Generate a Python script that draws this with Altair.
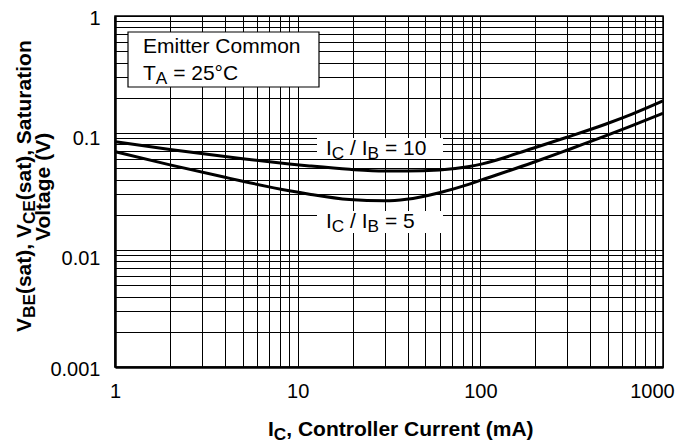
import altair as alt
import pandas as pd

# ---- data ----
ic_10 = [1, 2, 4, 5, 9, 11.6, 19.2, 29.9, 39.4, 59.7, 87.1, 102.6, 192.4, 295, 488, 677, 1000]
vsat_10 = [0.0842, 0.0724, 0.0629, 0.0603, 0.0544, 0.0523, 0.0489, 0.0473, 0.0473, 0.0483,
           0.0517, 0.0545, 0.0737, 0.0915, 0.1194, 0.1450, 0.1880]
ic_5 = [1, 2, 4, 5, 9, 11.6, 19.2, 29.9, 39.4, 59.7, 87.1, 102.6, 192.4, 295, 488, 677, 1000]
vsat_5 = [0.0692, 0.0534, 0.0418, 0.0387, 0.0321, 0.0300, 0.0270, 0.0263, 0.0271, 0.0309,
          0.0366, 0.0399, 0.0557, 0.0709, 0.0948, 0.1158, 0.1475]

x_ticks = [1, 2, 3, 4, 5, 6, 7, 8, 9, 10, 20, 30, 40, 50, 60, 70, 80, 90,
           100, 200, 300, 400, 500, 600, 700, 800, 900, 1000]
y_ticks = [0.001, 0.002, 0.003, 0.004, 0.005, 0.006, 0.007, 0.008, 0.009,
           0.01, 0.02, 0.03, 0.04, 0.05, 0.06, 0.07, 0.08, 0.09,
           0.1, 0.2, 0.3, 0.4, 0.5, 0.6, 0.7, 0.8, 0.9, 1]
x_labels = [1, 10, 100, 1000]
y_labels = [1, 0.1, 0.01, 0.001]

curves = pd.DataFrame(
    [{"ic": a, "v": b, "ratio": "10"} for a, b in zip(ic_10, vsat_10)]
    + [{"ic": a, "v": b, "ratio": "5"} for a, b in zip(ic_5, vsat_5)]
)

FONT = "Liberation Sans"
# Helvetica / Arial advance widths (1/1000 em)
W_REG = {" ": 278, "(": 333, ")": 333, ",": 278, ".": 278, "/": 278, "=": 584, "°": 400,
         "0": 556, "1": 556, "2": 556, "5": 556, "A": 667, "B": 667, "C": 722, "E": 667,
         "I": 278, "T": 611, "V": 667, "a": 556, "e": 556, "g": 556, "i": 222, "l": 222,
         "m": 833, "n": 556, "o": 556, "r": 333, "s": 500, "t": 278, "u": 556}
W_BOLD = {" ": 278, "(": 333, ")": 333, ",": 278, "A": 722, "B": 722, "C": 722, "E": 667,
          "I": 278, "S": 667, "V": 667, "a": 556, "e": 556, "g": 611, "i": 278, "l": 278,
          "m": 889, "n": 611, "o": 611, "r": 389, "s": 556, "t": 333, "u": 611}
SUB = 0.82
SUB_DY = 4


def tw(s, size, bold):
    tbl = W_BOLD if bold else W_REG
    return sum(tbl.get(c, 556) for c in s) / 1000 * size


def rich_text(parts, x0, y0, size, bold=False, angle=0):
    """parts: list of (text, is_subscript). Returns list of text layers."""
    layers = []
    cum = 0.0
    for txt, sub in parts:
        s = size * SUB if sub else size
        off = SUB_DY if sub else 0
        core = txt.strip(" ")
        lead = len(txt) - len(txt.lstrip(" "))
        pos = cum + tw(" " * lead, s, bold)
        if angle == 0:
            x, y = x0 + pos, y0 + off
        else:  # 270: text runs upward, glyph-down points to +x
            x, y = x0 + off, y0 - pos
        layers.append(
            alt.Chart(pd.DataFrame({"k": [0]}))
            .mark_text(text=core, align="left", baseline="alphabetic",
                       font=FONT, fontSize=s, fontWeight="bold" if bold else "normal",
                       color="black", angle=angle)
            .encode(x=alt.value(x), y=alt.value(y))
        )
        cum += tw(txt, s, bold)
    return layers


def rich_width(parts, size, bold):
    return sum(tw(t, size * SUB if s else size, bold) for t, s in parts)


x_lab_test = " || ".join(f"datum.value == {v}" for v in x_labels)
y_lab_test = " || ".join(f"datum.value == {v}" for v in y_labels)

x_axis = alt.Axis(
    values=x_ticks, labelExpr=f"({x_lab_test}) ? format(datum.value, '~g') : ''",
    grid=True, gridColor="black", gridWidth=1, ticks=False, tickSize=0,
    domain=True, domainColor="black", domainWidth=2.5,
    labelFont=FONT, labelFontSize=20, labelColor="black", labelPadding=14,
    labelOverlap=False, labelFlush=False,
    labelOffset=alt.condition("datum.value == 1000", alt.value(-11), alt.value(0)),
    title=None,
)
y_axis = alt.Axis(
    values=y_ticks, labelExpr=f"({y_lab_test}) ? format(datum.value, '~g') : ''",
    grid=True, gridColor="black", gridWidth=1, ticks=False, tickSize=0,
    domain=True, domainColor="black", domainWidth=2.5,
    labelFont=FONT, labelFontSize=20, labelColor="black", labelPadding=15,
    labelOverlap=False, labelFlush=False,
    labelOffset={"condition": [{"test": "datum.value == 1", "value": 2},
                               {"test": "datum.value == 0.1", "value": 5},
                               {"test": "datum.value == 0.01", "value": 8},
                               {"test": "datum.value == 0.001", "value": 2}],
                 "value": 0},
    title=None,
)

lines = alt.Chart(curves).mark_line(
    interpolate="monotone", strokeWidth=3, color="black", clip=True
).encode(
    x=alt.X("ic:Q", scale=alt.Scale(type="log", domain=[1, 1000], nice=False), axis=x_axis),
    y=alt.Y("v:Q", scale=alt.Scale(type="log", domain=[0.001, 1], nice=False), axis=y_axis),
    detail="ratio:N",
)


def box(x1, x2, y1, y2, stroke=None):
    kw = dict(fill="white")
    if stroke:
        kw.update(stroke=stroke, strokeWidth=1.2)
    return alt.Chart(pd.DataFrame({"k": [0]})).mark_rect(**kw).encode(
        x=alt.value(x1), x2=alt.value(x2), y=alt.value(y1), y2=alt.value(y2))


layers = [lines]
# legend box
layers.append(box(13, 204, 16, 71, stroke="black"))
layers += rich_text([("Emitter Common", False)], 28, 37, 21)
layers += rich_text([("T", False), ("A", True), (" = 25°C", False)], 28, 64, 21)

# curve labels
layers.append(box(202, 328, 122, 143))
layers += rich_text([("I", False), ("C", True), (" / I", False), ("B", True), (" = 10", False)], 211, 139, 21)
layers.append(box(202, 328, 195, 217))
layers += rich_text([("I", False), ("C", True), (" / I", False), ("B", True), (" = 5", False)], 211, 212, 21)

# x axis title
xt = [("I", False), ("C", True), (", Controller Current (mA)", False)]
layers += rich_text(xt, 153, 420, 21, bold=True)

# y axis title (two lines, rotated)
yt1 = [("V", False), ("BE", True), ("(sat), V", False), ("CE", True), ("(sat), Saturation", False)]
yt2 = [("Voltage (V)", False)]
y_start = 316
w1 = rich_width(yt1, 21, True)
w2 = rich_width(yt2, 21, True)
layers += rich_text(yt1, -84, y_start, 21, bold=True, angle=270)
layers += rich_text(yt2, -65, y_start - (w1 - w2) / 2, 21, bold=True, angle=270)

chart = alt.layer(*layers).properties(
    width=548, height=351,
    autosize=alt.AutoSizeParams(type="none"),
    padding={"left": 107, "top": 8, "right": 16, "bottom": 77},
    background="white",
).configure_view(stroke="black", strokeWidth=1.5)

chart.save("out.html", embed_options={"renderer": "svg", "actions": False})
